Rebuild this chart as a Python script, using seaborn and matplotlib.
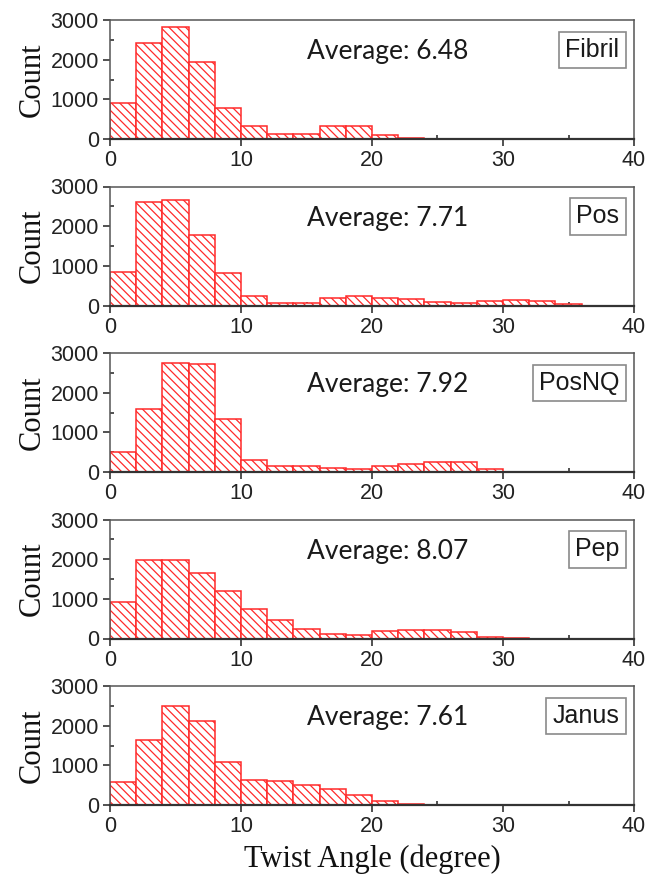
import numpy as np
import pandas as pd
import matplotlib
matplotlib.use("Agg")
import matplotlib.pyplot as plt
import seaborn as sns
from matplotlib.ticker import MultipleLocator

# ---- data (bin counts, bin width 2 degrees starting at 0) ----
bin_edges = list(range(0, 38, 2))
fibril = [900, 2420, 2830, 1940, 790, 330, 120, 130, 330, 340, 100, 25, 0, 0, 0, 0, 0, 0]
pos = [840, 2600, 2660, 1770, 810, 250, 60, 60, 190, 240, 200, 170, 80, 60, 110, 150, 110, 30]
posnq = [500, 1590, 2750, 2730, 1330, 300, 150, 140, 95, 85, 140, 200, 240, 260, 85, 10, 0, 0]
pep = [910, 1980, 1980, 1650, 1210, 750, 470, 250, 120, 95, 190, 220, 215, 155, 50, 10, 0, 0]
janus = [580, 1630, 2500, 2110, 1080, 640, 610, 510, 400, 255, 100, 15, 0, 0, 0, 0, 0, 0]

names = ["Fibril", "Pos", "PosNQ", "Pep", "Janus"]
averages = ["6.48", "7.71", "7.92", "8.07", "7.61"]
series = [fibril, pos, posnq, pep, janus]
x_ticks = [0, 10, 20, 30, 40]
y_ticks = [0, 1000, 2000, 3000]

sns.set_style("ticks")
plt.rcParams["hatch.linewidth"] = 0.9
plt.rcParams["font.family"] = ["Liberation Sans", "DejaVu Sans"]

W, H = 650, 877
fig = plt.figure(figsize=(W / 100, H / 100), dpi=100)

panels_px = [(20, 139), (186.5, 305.5), (353, 472), (519.5, 638.5), (686, 805)]
left_px, right_px = 110, 634

centers = [(bin_edges[i] + bin_edges[i + 1]) / 2 for i in range(len(bin_edges) - 1)]

for k, (name, avg, counts) in enumerate(zip(names, averages, series)):
    top, bot = panels_px[k]
    ax = fig.add_axes([left_px / W, 1 - bot / H, (right_px - left_px) / W, (bot - top) / H])
    df = pd.DataFrame({"angle": centers, "count": counts})
    sns.histplot(data=df, x="angle", weights="count", bins=bin_edges, ax=ax,
                 facecolor="white", edgecolor="#ff2a2a", linewidth=1.1,
                 hatch="\\\\\\\\", alpha=1.0)
    ax.set_xlim(0, 40)
    ax.set_ylim(0, 3000)
    ax.set_xticks(x_ticks)
    ax.set_yticks(y_ticks)
    ax.xaxis.set_minor_locator(MultipleLocator(5))
    ax.yaxis.set_minor_locator(MultipleLocator(500))
    ax.tick_params(axis="both", which="major", direction="out", length=5, width=1.2,
                   labelsize=15.5, colors="#333333", labelcolor="#222222", pad=3)
    ax.tick_params(axis="both", which="minor", direction="in", length=3, width=1.2, colors="#333333")
    for side in ["top", "right", "left", "bottom"]:
        ax.spines[side].set_visible(True)
        ax.spines[side].set_color("#555555")
        ax.spines[side].set_linewidth(1.1)
    ax.spines["bottom"].set_linewidth(1.6)
    ax.spines["bottom"].set_color("#333333")
    ax.set_ylabel("Count", family=["Liberation Serif"], fontsize=22, labelpad=3, color="#111111")
    ax.set_xlabel("")
    ax.text(0.376, 0.735, f"Average: {avg}", transform=ax.transAxes, fontsize=19,
            family=["Lato", "DejaVu Sans"], ha="left", va="center", color="#1a1a1a")
    ax.text(0.972, 0.75, name, transform=ax.transAxes, fontsize=18, ha="right", va="center",
            color="#1a1a1a",
            bbox=dict(boxstyle="square,pad=0.25", facecolor="white", edgecolor="#8a8a8a", linewidth=1.2))
    if k == len(names) - 1:
        ax.set_xlabel("Twist Angle (degree)", family=["Liberation Serif"], fontsize=22,
                      labelpad=5, color="#111111")

fig.savefig("out.png", dpi=100)
